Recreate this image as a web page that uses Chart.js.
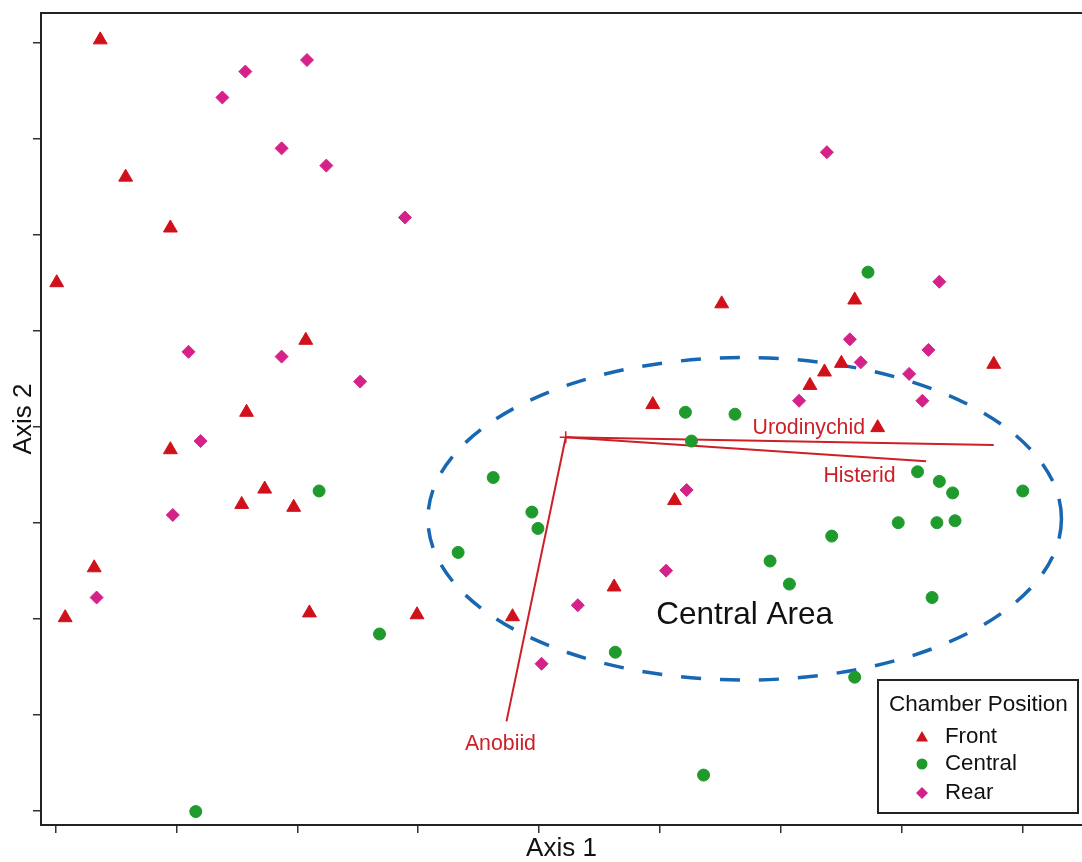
<!DOCTYPE html>
<html>
<head>
<meta charset="utf-8">
<title>Chamber Position ordination</title>
<script src="https://cdn.jsdelivr.net/npm/chart.js@4.4.1/dist/chart.umd.min.js"></script>
<style>
  html, body { margin: 0; padding: 0; background: #ffffff; overflow: hidden; }
  #wrap { position: relative; width: 1082px; height: 862px; }
  #wrap canvas { display: block; }
</style>
</head>
<body>
<div id="wrap"><canvas id="chart"></canvas></div>
<script>
// Axis ticks (unlabelled in the figure) and visible range
const xTicks = [-4, -3, -2, -1, 0, 1, 2, 3, 4];
const yTicks = [-4, -3, -2, -1, 0, 1, 2, 3, 4];
const xRange = [-4.12, 4.49];
const yRange = [-4.15, 4.31];

// Sample scores by chamber position, [axis 1, axis 2]
const frontPoints = [
  [-3.63, 4.03], [-3.42, 2.60], [-3.05, 2.07], [-3.99, 1.50], [-1.93, 0.90],
  [-2.42, 0.15], [-3.05, -0.24], [-2.27, -0.65], [-2.46, -0.81], [-2.03, -0.84],
  [-3.68, -1.47], [-3.92, -1.99], [-1.90, -1.94], [-1.01, -1.96], [-0.22, -1.98],
  [0.62, -1.67], [1.12, -0.77], [0.94, 0.23], [1.51, 1.28], [2.61, 1.32],
  [2.50, 0.66], [2.36, 0.57], [2.24, 0.43], [2.80, -0.01], [3.76, 0.65]
];
const centralPoints = [
  [2.72, 1.61], [1.21, 0.15], [1.62, 0.13], [1.26, -0.15], [-0.38, -0.53],
  [-0.06, -0.89], [-0.01, -1.06], [-1.82, -0.67], [-0.67, -1.31], [-1.32, -2.16],
  [0.63, -2.35], [1.36, -3.63], [-2.84, -4.01], [3.13, -0.47], [3.31, -0.57],
  [3.42, -0.69], [4.00, -0.67], [2.97, -1.00], [3.29, -1.00], [3.44, -0.98],
  [2.42, -1.14], [1.91, -1.40], [2.07, -1.64], [3.25, -1.78], [2.61, -2.61]
];
const rearPoints = [
  [-1.92, 3.82], [-2.43, 3.70], [-2.62, 3.43], [-2.13, 2.90], [-1.76, 2.72],
  [-1.11, 2.18], [-2.90, 0.78], [-2.13, 0.73], [-1.48, 0.47], [-2.80, -0.15],
  [-3.03, -0.92], [-3.66, -1.78], [2.38, 2.86], [3.31, 1.51], [2.57, 0.91],
  [3.22, 0.80], [2.66, 0.67], [3.06, 0.55], [2.15, 0.27], [3.17, 0.27],
  [1.22, -0.66], [1.05, -1.50], [0.32, -1.86], [0.02, -2.47]
];

// Taxon vectors drawn from a common origin
const vectorNames = ['Urodinychid', 'Histerid', 'Anobiid'];
const vectorOrigin = [0.22, -0.11];
const vectorEnds = [[3.76, -0.19], [3.20, -0.36], [-0.27, -3.07]];
const vectorLabelPos = [[2.23, -0.01], [2.65, -0.52], [-0.32, -3.31]];

// Highlighted region
const regionLabel = 'Central Area';
const regionCenter = [1.70, -0.96];
const regionRadii = [2.62, 1.68];
const regionLabelPos = [1.70, -1.97];

const FONT = "'Liberation Sans', Arial, Helvetica, sans-serif";
const RED = '#d0111c';
const GREEN = '#1f9a2c';
const MAGENTA = '#d52289';
const VECTOR_RED = '#cc1f27';
const REGION_BLUE = '#1767b3';

const toXY = pts => pts.map(([x, y]) => ({ x, y }));

const groups = [
  { label: 'Front', points: frontPoints, style: 'triangle', radius: 8, color: RED },
  { label: 'Central', points: centralPoints, style: 'circle', radius: 6, color: GREEN },
  { label: 'Rear', points: rearPoints, style: 'rectRot', radius: 6.5, color: MAGENTA }
];

const pointSets = groups.map(g => ({
  label: g.label,
  data: toXY(g.points),
  pointStyle: g.style,
  pointRadius: g.radius,
  pointHoverRadius: g.radius,
  backgroundColor: g.color,
  borderColor: g.color,
  borderWidth: 1,
  showLine: false
}));

const vectorSets = vectorEnds.map((end, i) => ({
  label: vectorNames[i],
  data: toXY([vectorOrigin, end]),
  showLine: true,
  borderColor: VECTOR_RED,
  borderWidth: 2,
  pointRadius: 0,
  fill: false
}));

const originSet = {
  label: 'origin',
  data: toXY([vectorOrigin]),
  pointStyle: 'cross',
  pointRadius: 6,
  borderColor: VECTOR_RED,
  borderWidth: 1.5,
  showLine: false
};

function drawMarker(ctx, style, x, y, r) {
  ctx.beginPath();
  if (style === 'triangle') {
    for (let k = 0; k < 3; k++) {
      const a = k * 2 * Math.PI / 3;
      const px = x + Math.sin(a) * r, py = y - Math.cos(a) * r;
      if (k === 0) ctx.moveTo(px, py); else ctx.lineTo(px, py);
    }
    ctx.closePath();
  } else if (style === 'circle') {
    ctx.arc(x, y, r, 0, Math.PI * 2);
  } else {
    ctx.moveTo(x - r, y); ctx.lineTo(x, y - r); ctx.lineTo(x + r, y); ctx.lineTo(x, y + r);
    ctx.closePath();
  }
  ctx.fill();
}

// Dashed region outline, under the points
const regionPlugin = {
  id: 'region',
  beforeDatasetsDraw(chart) {
    const { ctx, scales: { x, y } } = chart;
    const cx = x.getPixelForValue(regionCenter[0]);
    const cy = y.getPixelForValue(regionCenter[1]);
    const rx = Math.abs(x.getPixelForValue(regionCenter[0] + regionRadii[0]) - cx);
    const ry = Math.abs(y.getPixelForValue(regionCenter[1] + regionRadii[1]) - cy);
    ctx.save();
    ctx.strokeStyle = REGION_BLUE;
    ctx.lineWidth = 3.5;
    ctx.setLineDash([20, 19]);
    ctx.beginPath();
    ctx.ellipse(cx, cy, rx, ry, 0, 0, Math.PI * 2);
    ctx.stroke();
    ctx.restore();
  }
};

// Vector names, region name and the boxed legend
const labelPlugin = {
  id: 'labels',
  afterDatasetsDraw(chart) {
    const { ctx, scales: { x, y } } = chart;
    ctx.save();
    ctx.textAlign = 'center';
    ctx.textBaseline = 'middle';
    ctx.fillStyle = VECTOR_RED;
    ctx.font = `21.3px ${FONT}`;
    vectorLabelPos.forEach(([vx, vy], i) => {
      ctx.fillText(vectorNames[i], x.getPixelForValue(vx), y.getPixelForValue(vy));
    });
    ctx.fillStyle = '#111111';
    ctx.font = `31.5px ${FONT}`;
    ctx.fillText(regionLabel, x.getPixelForValue(regionLabelPos[0]), y.getPixelForValue(regionLabelPos[1]));
    ctx.restore();
  },
  afterDraw(chart) {
    const { ctx, chartArea } = chart;
    const w = 200, h = 133;
    const right = chartArea.right - 4, bottom = chartArea.bottom - 12;
    const left = right - w, top = bottom - h;
    ctx.save();
    ctx.fillStyle = '#ffffff';
    ctx.fillRect(left, top, w, h);
    ctx.strokeStyle = '#222222';
    ctx.lineWidth = 2;
    ctx.strokeRect(left, top, w, h);
    ctx.fillStyle = '#111111';
    ctx.textAlign = 'left';
    ctx.textBaseline = 'middle';
    ctx.font = `22.5px ${FONT}`;
    ctx.fillText('Chamber Position', left + 11, top + 25);
    ctx.font = `22.3px ${FONT}`;
    const rows = [57, 84, 113];
    groups.forEach((g, i) => {
      ctx.fillStyle = g.color;
      const mr = g.style === 'triangle' ? 7 : (g.style === 'circle' ? 5.5 : 6);
      drawMarker(ctx, g.style, left + 44, top + rows[i] + (g.style === 'triangle' ? 1 : 0), mr);
      ctx.fillStyle = '#111111';
      ctx.fillText(g.label, left + 67, top + rows[i]);
    });
    ctx.restore();
  }
};

new Chart(document.getElementById('chart'), {
  type: 'scatter',
  data: { datasets: [...pointSets, originSet, ...vectorSets] },
  options: {
    responsive: true,
    maintainAspectRatio: false,
    animation: false,
    layout: { autoPadding: false, padding: { top: 13, right: 0, bottom: 0, left: 0 } },
    plugins: { legend: { display: false }, tooltip: { enabled: false } },
    scales: {
      x: {
        type: 'linear',
        position: 'bottom',
        min: xRange[0],
        max: xRange[1],
        afterBuildTicks: s => { s.ticks = xTicks.map(v => ({ value: v })); },
        afterFit: s => { s.height = 37; },
        ticks: { display: false },
        grid: { display: true, drawOnChartArea: false, drawTicks: true, tickLength: 8, color: '#333333', lineWidth: 1.5 },
        border: { display: true, color: '#222222', width: 2 },
        title: {
          display: true, text: 'Axis 1', color: '#111111',
          font: { size: 26, family: FONT, lineHeight: 1 },
          padding: { top: 0, bottom: 0 }
        }
      },
      y: {
        type: 'linear',
        position: 'left',
        min: yRange[0],
        max: yRange[1],
        afterBuildTicks: s => { s.ticks = yTicks.map(v => ({ value: v })); },
        afterFit: s => { s.width = 41; },
        ticks: { display: false },
        grid: { display: true, drawOnChartArea: false, drawTicks: true, tickLength: 8, color: '#333333', lineWidth: 1.5 },
        border: { display: true, color: '#222222', width: 2 },
        title: {
          display: true, text: 'Axis 2', color: '#111111',
          font: { size: 26, family: FONT, lineHeight: 1 },
          padding: { top: 11, bottom: 0 }
        }
      },
      xTop: {
        type: 'linear',
        position: 'top',
        afterFit: s => { s.height = 0; },
        ticks: { display: false },
        grid: { display: false, drawTicks: false },
        border: { display: true, color: '#222222', width: 2 }
      }
    }
  },
  plugins: [regionPlugin, labelPlugin]
});
</script>
</body>
</html>
